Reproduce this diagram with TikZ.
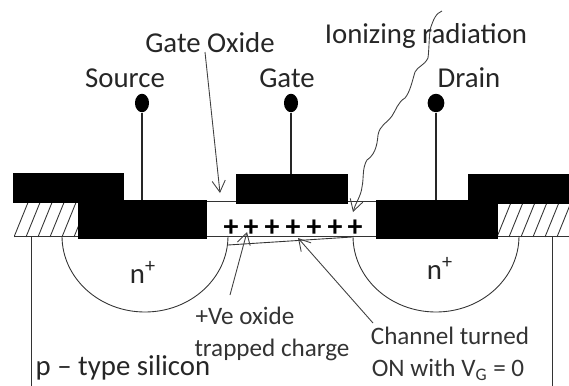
\documentclass[tikz,border=0pt]{standalone}
\usepackage{fontspec}
\setmainfont{Carlito}
\usetikzlibrary{arrows.meta,calc,shapes.geometric}
\tikzset{
  metal/.style={fill=black, draw=black},
  pad/.style={ellipse, fill=black, inner sep=0pt, minimum width=8pt, minimum height=10.5pt},
  lbl/.style={inner sep=0pt, text=black!85, font=\fontsize{16.4}{18}\selectfont},
  smlbl/.style={inner sep=0pt, text=black!80, font=\fontsize{14.3}{16}\selectfont},
  wire/.style={line width=0.6pt, black!85},
  thin line/.style={line width=0.5pt, black!80},
  ptr/.style={line width=0.5pt, black!75, -{Straight Barb[length=6.5pt,width=7.5pt]}}
}
\begin{document}
\begin{tikzpicture}[x=0.02cm,y=-0.02cm]
\useasboundingbox (0,0) rectangle (569,386);
% hatching
\begin{scope}
\clip (14,202) rectangle (78,237);
\foreach \x in {14,26,...,80} \draw[thin line] (\x,237) -- (\x+15,200);
\end{scope}
\begin{scope}
\clip (497,202) rectangle (569,237);
\foreach \x in {497,509,...,569} \draw[thin line] (\x,237) -- (\x+15,200);
\end{scope}
% surface and oxide
\draw[thin line] (14,236) -- (569,236);
\draw[thin line] (206,201) -- (376,201);
\draw[thin line] (31,236) -- (31,386);
\draw[thin line] (552,236) -- (552,386);
% n+ wells
\draw[thin line] (62,236) arc (180:0:83 and 76);
\draw[thin line] (353,236) arc (180:0:83 and 76);
% channel
\draw[thin line] (228,245) -- (352,237);
% metal
\fill[metal] (13,173) rectangle (123,202);
\fill[metal] (78,200) rectangle (206,238);
\fill[metal] (236,174) rectangle (347,203);
\fill[metal] (376,200) rectangle (497,238);
\fill[metal] (468,174) rectangle (569,203);
% terminals
\node[pad] (srcpad) at (142,103) {};
\node[pad] (gatepad) at (291,103) {};
\node[pad, minimum width=9.5pt] (drainpad) at (436,103) {};
\coordinate (srcc) at (142,200);
\coordinate (gatec) at (291,174);
\coordinate (drainc) at (436,200);
\draw[wire] (srcpad) -- (srcc);
\draw[wire] (gatepad) -- (gatec);
\draw[wire] (drainpad) -- (drainc);
% charge
\foreach \x in {231,251,272,293,314,335,355}
  \node[inner sep=0pt, font=\bfseries\fontsize{17}{17}\selectfont] at (\x,228) {+};
% labels
\node[lbl] (srclbl) at (125,78) {Source};
\node[lbl] (gatelbl) at (287,78) {Gate};
\node[lbl] (drainlbl) at (469,78) {Drain};
\node[lbl] (oxlbl) at (210,43) {Gate Oxide};
\node[lbl] (radlbl) at (426,36) {Ionizing radiation};
\node[lbl] at (143,272) {n\textsuperscript{+}};
\node[lbl] at (440,268) {n\textsuperscript{+}};
\node[smlbl] (velbl) at (245,316) {+Ve oxide};
\node[smlbl] (traplbl) at (272,350) {trapped charge};
\node[lbl] (ptype) at (123,368) {p -- type silicon};
\node[smlbl] (chanlbl) at (450,336) {Channel turned};
\node[smlbl] (onlbl) at (448,370) {ON with V\textsubscript{G} = 0};
% pointers
\coordinate (oxtip) at (220,193);
\coordinate (traptip) at (247,232);
\coordinate (chantip) at (298,238);
\coordinate (radtip) at (353,212);
\draw[ptr] (205,52) -- (oxtip);
\draw[ptr] (230,295) -- (traptip);
\draw[ptr] (373,323) -- (chantip);
\draw[ptr] (442,11) .. controls (436,13) and (433,20) .. (430,30)
  .. controls (429,40) and (429,50) .. (428,58)
  .. controls (424,66) and (418,66) .. (415,72)
  .. controls (412,82) and (410,92) .. (405,98)
  .. controls (398,102) and (396,110) .. (392,116)
  .. controls (386,124) and (380,125) .. (378,135)
  .. controls (377,148) and (374,155) .. (367,160)
  .. controls (362,168) and (364,178) .. (362,187)
  .. controls (361,196) and (356,202) .. (radtip);
\end{tikzpicture}
\end{document}
